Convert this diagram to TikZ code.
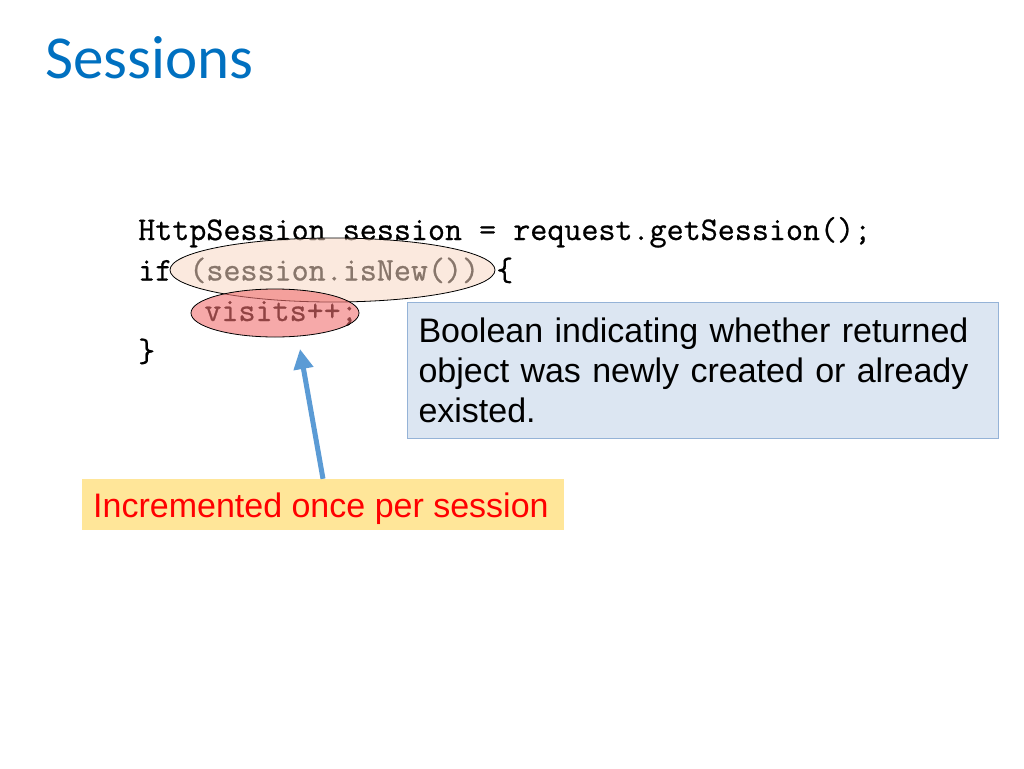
\documentclass[tikz,border=0pt]{standalone}
\usepackage{fontspec}
\setmonofont{Latin Modern Mono}[FakeBold=0.7]
\newfontfamily\titlefont{Carlito}
\newfontfamily\arialfont{Liberation Sans}
\usetikzlibrary{shapes.geometric,arrows.meta}
\definecolor{titleblue}{HTML}{0070C0}
\definecolor{boxfill}{HTML}{DCE6F2}
\definecolor{boxline}{HTML}{95B3D7}
\definecolor{yfill}{HTML}{FFE699}
\definecolor{peach}{HTML}{F8D8C4}
\definecolor{pinkred}{HTML}{F07070}
\definecolor{arrowblue}{HTML}{5B9BD5}
\tikzset{
  codeline/.style={anchor=base west, inner sep=0pt, font=\ttfamily\fontsize{33.1}{40.5}\selectfont},
  bluebox/.style={draw=boxline, line width=1pt, fill=boxfill, anchor=north west, text width=569pt, inner xsep=11pt, inner ysep=15.5pt, align=left, font=\arialfont\fontsize{34}{40}\selectfont},
  ybox/.style={fill=yfill, inner sep=0pt, minimum width=482pt, minimum height=51pt},
  redtext/.style={anchor=base west, inner sep=0pt, text=red, font=\arialfont\fontsize{34}{40}\selectfont},
  hilite/.style={ellipse, draw=black, line width=0.8pt, inner sep=0pt},
  arr/.style={arrowblue, line width=5pt, -{Triangle[width=19pt,length=20pt]}}
}
\begin{document}
\begin{tikzpicture}[x=1pt,y=-1pt]
\fill[white] (0,0) rectangle (1024,768);
\useasboundingbox (0,0) rectangle (1024,768);
% title
\node[anchor=base west, inner sep=0pt, text=titleblue, font=\titlefont\fontsize{61}{70}\selectfont] (title) at (45,78) {Sessions};
% code
\node[codeline] (c1) at (138,240) {HttpSession session = request.getSession();};
\node[codeline] (c2) at (138,280.5) {if (session.isNew()) \{};
\node[codeline] (c3) at (204.2,321) {visits++;};
\node[codeline] (c4) at (138,361.5) {\}};
% highlights
\node[hilite, fill=peach, fill opacity=0.55, minimum width=325pt, minimum height=64pt] (isnew) at (332.5,270) {};
\node[hilite, fill=pinkred, fill opacity=0.6, minimum width=168pt, minimum height=48pt] (visits) at (275,313) {};
% blue callout
\node[bluebox] (boolbox) at (407,302) {Boolean indicating whether returned\\object was newly created or already\\existed.};
% yellow callout
\node[ybox] (incbox) at (323,504.5) {};
\node[redtext] (inc) at (93,517) {Incremented once per session};
% arrow
\coordinate (tip) at (300,349);
\draw[arr] (incbox.north) -- (tip);
\end{tikzpicture}
\end{document}
